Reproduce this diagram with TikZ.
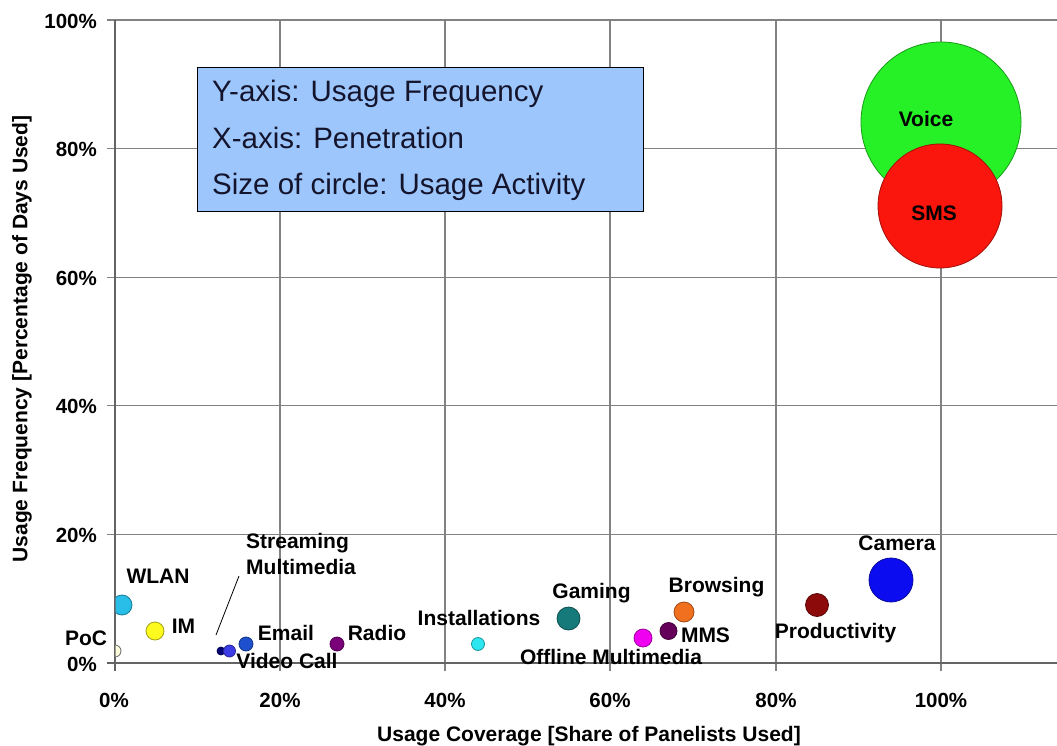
\documentclass[tikz,border=0pt]{standalone}
\usepackage{fontspec}
\setmainfont{Liberation Sans}
\definecolor{gridgray}{RGB}{130,130,130}
\definecolor{axisgray}{RGB}{100,100,100}
\definecolor{boxblue}{RGB}{157,199,252}
\definecolor{boxtext}{RGB}{20,20,45}
\definecolor{cVoice}{RGB}{38,240,38}
\definecolor{cSMS}{RGB}{250,22,12}
\definecolor{cCamera}{RGB}{12,12,240}
\definecolor{cProd}{RGB}{140,10,10}
\definecolor{cBrowse}{RGB}{240,112,32}
\definecolor{cMMS}{RGB}{100,0,90}
\definecolor{cOffline}{RGB}{240,0,240}
\definecolor{cGaming}{RGB}{22,122,122}
\definecolor{cInst}{RGB}{45,230,240}
\definecolor{cRadio}{RGB}{122,0,122}
\definecolor{cEmail}{RGB}{30,80,205}
\definecolor{cVideo}{RGB}{60,60,230}
\definecolor{cStream}{RGB}{0,0,120}
\definecolor{cWLAN}{RGB}{40,190,232}
\definecolor{cIM}{RGB}{252,250,30}
\definecolor{cPoC}{RGB}{255,255,222}
\begin{document}
\begin{tikzpicture}[x=1pt,y=-1pt,
  grid/.style={draw=gridgray, line width=1.1pt},
  axisline/.style={draw=axisgray, line width=1.3pt},
  ticklab/.style={font=\bfseries\fontsize{20.5}{24}\selectfont, inner sep=0pt},
  lab/.style={font=\bfseries\fontsize{21}{26}\selectfont, inner sep=0pt, anchor=base},
  boxline/.style={font=\fontsize{29.5}{34}\selectfont, text=boxtext, inner sep=0pt, anchor=base west},
  bub/.style={circle, draw=#1!65!black, fill=#1, inner sep=0pt, line width=0.8pt},
  leader/.style={draw=black, line width=0.8pt}]
\useasboundingbox (0,0) rectangle (1057,746);
\fill[white] (0,0) rectangle (1057,746);
% gridlines
\foreach \yy in {20,148.6,277.2,405.8,534.4} \draw[grid] (107,\yy) -- (1057,\yy);
\foreach \xx in {280,445,610,776,941} \draw[grid] (\xx,20) -- (\xx,671);
\draw[axisline] (107,663) -- (1057,663);
\draw[axisline] (115,20) -- (115,671);
% y tick labels
\node[ticklab, anchor=east] (y100) at (97,21) {100\%};
\node[ticklab, anchor=east] (y80) at (97,149) {80\%};
\node[ticklab, anchor=east] (y60) at (97,278) {60\%};
\node[ticklab, anchor=east] (y40) at (97,406) {40\%};
\node[ticklab, anchor=east] (y20) at (97,535) {20\%};
\node[ticklab, anchor=east] (y0) at (97,664) {0\%};
% x tick labels
\node[ticklab] (x0) at (114,700) {0\%};
\node[ticklab] (x20) at (280,700) {20\%};
\node[ticklab] (x40) at (445,700) {40\%};
\node[ticklab] (x60) at (610,700) {60\%};
\node[ticklab] (x80) at (776,700) {80\%};
\node[ticklab] (x100) at (941,700) {100\%};
% axis titles
\node[lab, anchor=base] (xtitle) at (589,741) {Usage Coverage [Share of Panelists Used]};
\node[lab, anchor=center, rotate=90] (ytitle) at (22,339) {Usage Frequency [Percentage of Days Used]};
% info box
\node[draw=black, line width=0.8pt, fill=boxblue, minimum width=446pt, minimum height=144pt, inner sep=0pt] (info) at (420,139) {};
\node[boxline] (l1) at (212,102) {Y-axis: Usage Frequency};
\node[boxline] (l2) at (212,149) {X-axis: Penetration};
\node[boxline] (l3) at (212,195) {Size of circle: Usage Activity};
% bubbles
\begin{scope}
\clip (115.6,0) rectangle (1057,663);
\node[bub=cVoice, minimum size=160pt] (voice) at (941,122) {};
\node[bub=cSMS, minimum size=124pt] (sms) at (940,206) {};
\node[bub=cCamera, minimum size=44pt] (camera) at (891,580) {};
\node[bub=cProd, minimum size=23pt] (prod) at (817,605) {};
\node[bub=cBrowse, minimum size=20pt] (browse) at (684,612) {};
\node[bub=cMMS, minimum size=17pt] (mms) at (668.5,631) {};
\node[bub=cOffline, minimum size=18pt] (offline) at (643,638) {};
\node[bub=cGaming, minimum size=23pt] (gaming) at (568.5,618.5) {};
\node[bub=cInst, minimum size=13pt] (inst) at (478,644) {};
\node[bub=cRadio, minimum size=14pt] (radio) at (337,644) {};
\node[bub=cEmail, minimum size=14pt] (email) at (246,644) {};
\node[bub=cStream, minimum size=8pt] (stream) at (221,651) {};
\node[bub=cVideo, minimum size=12pt] (video) at (229.5,651) {};
\node[bub=cWLAN, minimum size=20pt] (wlan) at (122,605) {};
\node[bub=cIM, minimum size=18pt] (im) at (155,631) {};
\node[bub=cPoC, draw=black!60, minimum size=12pt] (poc) at (115,651) {};
\end{scope}
% labels
\node[lab] (voicelab) at (926,127) {Voice};
\node[lab] (smslab) at (934,220) {SMS};
\node[lab] (cameralab) at (897,550) {Camera};
\node[lab] (prodlab) at (835.5,638) {Productivity};
\node[lab] (browselab) at (716.5,592) {Browsing};
\node[lab] (mmslab) at (705.5,642) {MMS};
\node[lab] (offlinelab) at (611,664) {Offline Multimedia};
\node[lab] (gaminglab) at (591.5,598) {Gaming};
\node[lab] (instlab) at (479,625) {Installations};
\node[lab] (radiolab) at (377,640) {Radio};
\node[lab] (emaillab) at (286,640) {Email};
\node[lab] (videolab) at (287,668) {Video Call};
\node[lab, anchor=base west, align=left] (streamlab) at (246,574) {Streaming\\Multimedia};
\node[lab] (wlanlab) at (158,583) {WLAN};
\node[lab] (imlab) at (183.5,633) {IM};
\node[lab] (poclab) at (86,645) {PoC};
% leader
\coordinate (leadstart) at (239,576);
\coordinate (leadend) at (216,635);
\draw[leader] (leadstart) -- (leadend);
\end{tikzpicture}
\end{document}
